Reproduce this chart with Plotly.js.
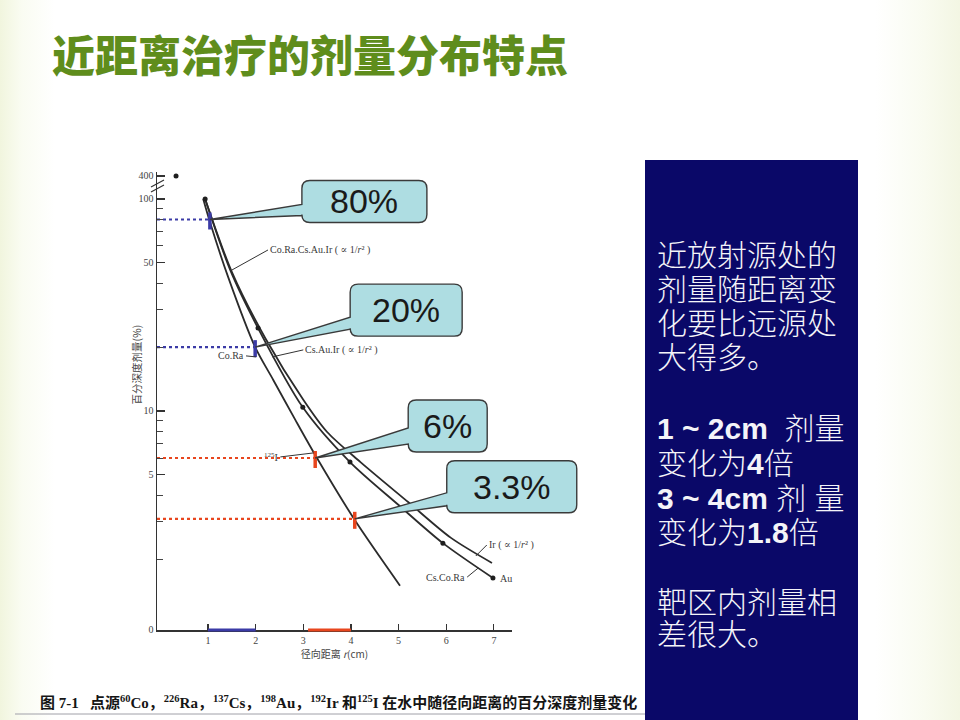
<!DOCTYPE html>
<html>
<head>
<meta charset="utf-8">
<script src="https://cdn.plot.ly/plotly-3.0.1.min.js"></script>
<style>
  html, body { margin: 0; padding: 0; }
  body {
    width: 960px; height: 720px; overflow: hidden;
    background: linear-gradient(90deg, #f1f5de 0px, #fafcf2 22px, #ffffff 55px, #ffffff 875px, #f9fbf0 925px, #f3f6e3 960px);
  }
  #chart { width: 960px; height: 720px; }
</style>
</head>
<body>
<div id="chart"></div>
<script>
// ---------------- data ----------------
// curve A: steep curve (Co.Ra near source, continues as 125I)
const curveA_r = [0.90, 1.04, 1.42, 1.99, 2.37, 2.83, 3.25, 4.08, 5.03];
const curveA_d = [100, 78, 43, 20, 14, 9.1, 6.2, 3.06, 1.5];
// curve B: Cs.Co.Ra (with measured dots), ends at Au
const curveB_r = [0.94, 1.47, 2.05, 2.99, 3.98, 5.0, 5.93, 6.98];
const curveB_d = [100, 46, 24.6, 10.4, 5.74, 3.6, 2.38, 1.63];
// curve C: Ir
const curveC_r = [0.94, 1.5, 2.2, 3.0, 3.5, 4.2, 5.2, 6.1, 6.96];
const curveC_d = [100, 45.3, 22.1, 11.3, 7.96, 5.74, 3.72, 2.52, 1.92];
// measured dots
const dot_r = [0.33, 0.94, 2.05, 2.99, 3.98, 5.93, 6.98];
const dot_d = [400, 100, 24.6, 10.4, 5.74, 2.38, 1.63];
// highlighted read-offs
const mark_r = [1.04, 1.99, 3.25, 4.08];
const mark_d = [80, 20, 6.0, 3.1];
const mark_labels = ['80%', '20%', '6%', '3.3%'];
const mark_colors = ['#3b3ba6', '#3b3ba6', '#e8461e', '#e8461e'];
// ranges marked on the x axis
const blueSpan = [1, 2];
const redSpan = [3.1, 4];
// axis ticks
const xTicks = [1, 2, 3, 4, 5, 6, 7];
const yTickVals = [0.93, 5, 10, 50, 100, 400];
const yTickText = ['0', '5', '10', '50', '100', '400'];
const yMinorVals = [2, 3, 4, 6, 7, 8, 9, 20, 30, 40, 60, 70, 80, 90];

// ---------------- helpers ----------------
// log scale with a compressed break above 100
function toAxis(v) { const l = Math.log10(v); return l > 2 ? 2 + (l - 2) * 0.18 : l; }
const X_RANGE = [-0.07, 7.38];
const Y_RANGE = [-0.033, 2.127];
const PL = 157, PR = 512, PT = 172, PB = 630;
function xp(px) { return (px - PL) / (PR - PL); }
function yp(py) { return (PB - py) / (PB - PT); }
// data -> paper fraction (linear axes)
function rx(r) { return (r - X_RANGE[0]) / (X_RANGE[1] - X_RANGE[0]); }
function ry(a) { return (a - Y_RANGE[0]) / (Y_RANGE[1] - Y_RANGE[0]); }

const lineStyle = { color: '#2b2b2b', width: 1.8, shape: 'spline', smoothing: 0.8 };
const traces = [];
[[curveA_r, curveA_d], [curveB_r, curveB_d], [curveC_r, curveC_d]].forEach(([r, d]) => {
  traces.push({ x: r, y: d.map(toAxis), mode: 'lines', line: lineStyle, hoverinfo: 'skip', showlegend: false });
});
traces.push({ x: dot_r, y: dot_d.map(toAxis), mode: 'markers', marker: { color: '#1e1e1e', size: 5 },
  hoverinfo: 'skip', showlegend: false, cliponaxis: false });
// dotted read-off lines
mark_r.forEach((r, i) => {
  traces.push({ x: [X_RANGE[0], r], y: [toAxis(mark_d[i]), toAxis(mark_d[i])], mode: 'lines',
    line: { color: mark_colors[i], width: 2.2, dash: 'dot' }, hoverinfo: 'skip', showlegend: false });
});

const shapes = [];
const annotations = [];
// coloured spans on x axis
shapes.push({ type: 'line', xref: 'x', yref: 'paper', x0: blueSpan[0], x1: blueSpan[1], y0: 0, y1: 0,
  line: { color: '#3b3ba6', width: 3 } });
shapes.push({ type: 'line', xref: 'x', yref: 'paper', x0: redSpan[0], x1: redSpan[1], y0: 0, y1: 0,
  line: { color: '#e8461e', width: 3 } });

// ---------------- callouts ----------------
// box geometry in screen pixels relative to the read-off point (y downward)
const callBoxes = [
  { x0: 92, x1: 217, y0: -39, y1: 3, wa: -15, wb: -4 },
  { x0: 95, x1: 207, y0: -63, y1: -11, wa: -30, wb: -18 },
  { x0: 93, x1: 172, y0: -58, y1: -6, wa: -30, wb: -14 },
  { x0: 92, x1: 222, y0: -58, y1: -6, wa: -26, wb: -13 }
];
function calloutPath(b, rad) {
  const P = (x, y) => x + ' ' + (-y);
  return 'M' + P(b.x0 + rad, b.y0) +
    ' L' + P(b.x1 - rad, b.y0) + ' Q' + P(b.x1, b.y0) + ' ' + P(b.x1, b.y0 + rad) +
    ' L' + P(b.x1, b.y1 - rad) + ' Q' + P(b.x1, b.y1) + ' ' + P(b.x1 - rad, b.y1) +
    ' L' + P(b.x0 + rad, b.y1) + ' Q' + P(b.x0, b.y1) + ' ' + P(b.x0, b.y1 - rad) +
    ' L' + P(b.x0, b.wb) + ' L' + P(0, 0) + ' L' + P(b.x0, b.wa) +
    ' L' + P(b.x0, b.y0 + rad) + ' Q' + P(b.x0, b.y0) + ' ' + P(b.x0 + rad, b.y0) + ' Z';
}

mark_r.forEach((r, i) => {
  const ya = toAxis(mark_d[i]);
  // short thick bar at the read-off point
  shapes.push({ type: 'line', xref: 'x', yref: 'y', x0: r, x1: r, ysizemode: 'pixel', yanchor: ya,
    y0: 7, y1: -10, line: { color: mark_colors[i], width: 3.5 } });
  const b = callBoxes[i];
  shapes.push({ type: 'path', xref: 'paper', yref: 'paper', xsizemode: 'pixel', ysizemode: 'pixel',
    xanchor: rx(r), yanchor: ry(ya), path: calloutPath(b, 8),
    fillcolor: '#aedde2', line: { color: '#3a3a3a', width: 1.4 } });
  annotations.push({ xref: 'x', yref: 'y', x: r, y: ya, showarrow: false,
    xshift: (b.x0 + b.x1) / 2, yshift: -(b.y0 + b.y1) / 2,
    text: mark_labels[i], font: { family: 'Liberation Sans, Arial', size: 34, color: '#1a1a1a' } });
});

// axis break mark near 400
shapes.push({ type: 'path', xref: 'paper', yref: 'paper',
  path: 'M' + xp(151) + ' ' + yp(187) + ' L' + xp(164) + ' ' + yp(180) +
        ' M' + xp(151) + ' ' + yp(192) + ' L' + xp(164) + ' ' + yp(185),
  line: { color: '#333', width: 1.2 } });

// curve labels of the original figure
const lblFont = { family: 'Liberation Serif, DejaVu Serif', size: 10, color: '#3a3a3a' };
const curveLabels = [
  { r: 1.504, v: 1.665, ax: 36, ay: -20, anchor: 'left', text: 'Co.Ra.Cs.Au.Ir ( ∝ 1/<i>r</i>² )' },
  { r: 2.008, v: 1.255, ax: -10, ay: -1, anchor: 'right', text: 'Co.Ra' },
  { r: 2.35, v: 1.255, ax: 31, ay: -7, anchor: 'left', text: 'Cs.Au.Ir ( ∝ 1/<i>r</i>² )' },
  { r: 3.21, v: 0.802, ax: -33, ay: 4, anchor: 'right', text: '<sup>125</sup>I' },
  { r: 6.62, v: 0.316, ax: 11, ay: -11, anchor: 'left', text: 'Ir ( ∝ 1/<i>r</i>² )' },
  { r: 6.67, v: 0.259, ax: -11, ay: 9, anchor: 'right', text: 'Cs.Co.Ra' }
];
curveLabels.forEach(c => {
  annotations.push({ xref: 'x', yref: 'y', x: c.r, y: c.v, ax: c.ax, ay: c.ay, axref: 'pixel', ayref: 'pixel',
    showarrow: true, arrowhead: 0, arrowwidth: 1, arrowcolor: '#333', standoff: 0,
    xanchor: c.anchor, yanchor: 'middle', text: c.text, font: lblFont });
});
annotations.push({ xref: 'x', yref: 'y', x: 6.98, y: toAxis(1.63), xshift: 5, xanchor: 'left',
  showarrow: false, text: 'Au', font: lblFont });

// y axis title (placed like the original figure)
annotations.push({ xref: 'paper', yref: 'paper', x: xp(126), y: yp(365), textangle: -90, showarrow: false,
  text: '百分深度剂量(%)', font: { family: 'Noto Sans CJK SC', size: 10.5, color: '#444' } });

// ---------------- right-hand text panel ----------------
shapes.push({ type: 'rect', xref: 'paper', yref: 'paper', x0: xp(645), x1: xp(858), y0: yp(720), y1: yp(160),
  fillcolor: '#0a0868', line: { width: 0 }, layer: 'above' });
const panelLines = [
  ['近放射源处的', 255], ['剂量随距离变', 289], ['化要比远源处', 323], ['大得多。', 357],
  ['<b>1 ~ 2cm</b>  剂量', 428], ['变化为<b>4</b>倍', 463], ['<b>3 ~ 4cm</b> 剂 量', 498],
  ['变化为<b>1.8</b>倍', 532], ['靶区内剂量相', 602], ['差很大。', 634]
];
panelLines.forEach(([t, y]) => {
  annotations.push({ xref: 'paper', yref: 'paper', x: xp(655), y: yp(y), xanchor: 'left', yanchor: 'middle',
    showarrow: false, text: t,
    font: { family: 'Liberation Sans, Noto Sans CJK SC', size: 30, color: '#f4f4f8', weight: 300 } });
});

// ---------------- caption ----------------
annotations.push({ xref: 'paper', yref: 'paper', x: xp(38), y: yp(702), xanchor: 'left', yanchor: 'middle',
  showarrow: false,
  text: '<b>图 7-1   点源<sup>60</sup>Co，<sup>226</sup>Ra，<sup>137</sup>Cs，<sup>198</sup>Au，<sup>192</sup>Ir 和<sup>125</sup>I 在水中随径向距离的百分深度剂量变化</b>',
  font: { family: 'Liberation Serif, Noto Sans CJK SC', size: 15, color: '#151515' } });
shapes.push({ type: 'line', xref: 'paper', yref: 'paper', x0: xp(15), x1: xp(645), y0: yp(714), y1: yp(714),
  line: { color: '#a0a0a8', width: 1 }, layer: 'below' });

const layout = {
  width: 960, height: 720,
  margin: { l: PL, r: 960 - PR, t: PT, b: 720 - PB, pad: 0 },
  paper_bgcolor: 'rgba(0,0,0,0)', plot_bgcolor: 'rgba(0,0,0,0)',
  showlegend: false,
  title: { text: '近距离治疗的剂量分布特点', xref: 'container', yref: 'container', x: 52 / 960, xanchor: 'left',
    y: 1 - 57 / 720, yanchor: 'middle',
    font: { family: 'Noto Sans CJK SC', size: 43, color: '#5f8d1c', weight: 900 } },
  xaxis: {
    range: X_RANGE, showgrid: false, zeroline: false, showline: true, linecolor: '#333', linewidth: 1.5,
    tickmode: 'array', tickvals: xTicks, ticks: 'inside', ticklen: 6, tickwidth: 1.2, tickcolor: '#333',
    tickfont: { family: 'Liberation Serif, DejaVu Serif', size: 10, color: '#444' },
    title: { text: '径向距离 <i>r</i>(cm)', standoff: 6, font: { family: 'Noto Sans CJK SC', size: 10, color: '#444' } }
  },
  yaxis: {
    range: Y_RANGE, showgrid: false, zeroline: false, showline: true, linecolor: '#333', linewidth: 1.5,
    tickmode: 'array', tickvals: yTickVals.map(toAxis), ticktext: yTickText,
    ticks: 'inside', ticklen: 8, tickwidth: 1.2, tickcolor: '#333',
    minor: { tickmode: 'array', tickvals: yMinorVals.map(toAxis), ticks: 'inside', ticklen: 6, tickwidth: 1, tickcolor: '#444' },
    tickfont: { family: 'Liberation Serif, DejaVu Serif', size: 10, color: '#444' }
  },
  shapes: shapes,
  annotations: annotations
};

Plotly.newPlot('chart', traces, layout, { displayModeBar: false, staticPlot: true });
</script>
</body>
</html>
